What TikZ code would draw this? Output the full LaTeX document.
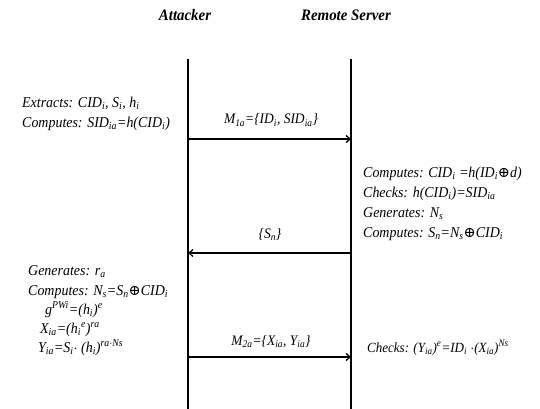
\documentclass[tikz,border=0pt]{standalone}
\usepackage{fontspec}
\setmainfont[FakeStretch=0.93]{Liberation Serif}
\newfontfamily\symfont{DejaVu Serif}
\usetikzlibrary{arrows.meta}
\newcommand{\subx}[1]{\textsubscript{#1}}
\newcommand{\supx}[1]{\textsuperscript{#1}}
\newcommand{\xor}{{\upshape\symfont\fontsize{14.5}{14.5}\selectfont ⊕}}
\tikzset{
  lifeline/.style={line width=1.4pt},
  msg/.style={line width=1.3pt,-{Straight Barb[length=4pt,width=7pt]}},
  txt/.style={anchor=base west,font=\fontsize{15}{16}\selectfont\itshape,inner sep=0pt},
  lbl/.style={anchor=base,font=\fontsize{14.5}{16}\selectfont\itshape,inner sep=0pt},
  head/.style={anchor=base,font=\fontsize{16}{18}\selectfont\bfseries\itshape,inner sep=0pt}
}
\begin{document}
\begin{tikzpicture}[x=1pt,y=-1pt]
\useasboundingbox (0,0) rectangle (540,409);
\fill[white] (0,0) rectangle (540,409);
% participants
\node[head] (att) at (185,21) {Attacker};
\node[head] (srv) at (346,21) {Remote Server};
\coordinate (aTop) at (188,59);
\coordinate (aBot) at (188,409);
\coordinate (sTop) at (351,59);
\coordinate (sBot) at (351,409);
\draw[lifeline] (aTop) -- (aBot);
\draw[lifeline] (sTop) -- (sBot);
% message endpoints
\coordinate (m1a) at (188,139);
\coordinate (m1s) at (351,139);
\coordinate (m2s) at (351,253);
\coordinate (m2a) at (188,253);
\coordinate (m3a) at (188,357);
\coordinate (m3s) at (351,357);
\draw[msg] (m1a) -- (m1s);
\draw[msg] (m2s) -- (m2a);
\draw[msg] (m3a) -- (m3s);
% message labels
\node[lbl] (l1) at (271,124) {M\subx{1a}=\{ID\subx{i}, SID\subx{ia}\}};
\node[lbl] (l2) at (270,238) {\{S\subx{n}\}};
\node[lbl] (l3) at (271,345) {M\subx{2a}=\{X\subx{ia}, Y\subx{ia}\}};
% attacker computations
\node[txt] (a1) at (22,107) {Extracts: CID\subx{i}, S\subx{i}, h\subx{i}};
\node[txt] (a2) at (22,127) {Computes: SID\subx{ia}=h(CID\subx{i})};
\node[txt] (a3) at (28,275) {Generates: r\subx{a}};
\node[txt] (a4) at (28,295) {Computes: N\subx{s}=S\subx{n}\xor CID\subx{i}};
\node[txt] (a5) at (45,314) {g\supx{PWi}=(h\subx{i})\supx{e}};
\node[txt] (a6) at (40,333) {X\subx{ia}=(h\subx{i}\supx{e})\supx{ra}};
\node[txt] (a7) at (38,352) {Y\subx{ia}=S\subx{i}$\cdot$ (h\subx{i})\supx{ra$\cdot$Ns}};
% server computations
\node[txt] (s1) at (363,177) {Computes: CID\subx{i} =h(ID\subx{i}\xor d)};
\node[txt] (s2) at (363,197) {Checks: h(CID\subx{i})=SID\subx{ia}};
\node[txt] (s3) at (363,217) {Generates: N\subx{s}};
\node[txt] (s4) at (363,237) {Computes: S\subx{n}=N\subx{s}\xor CID\subx{i}};
\node[txt,font=\fontsize{14}{16}\selectfont\itshape] (s5) at (367,352) {Checks: (Y\subx{ia})\supx{e}=ID\subx{i} $\cdot$(X\subx{ia})\supx{Ns}};
\end{tikzpicture}
\end{document}
